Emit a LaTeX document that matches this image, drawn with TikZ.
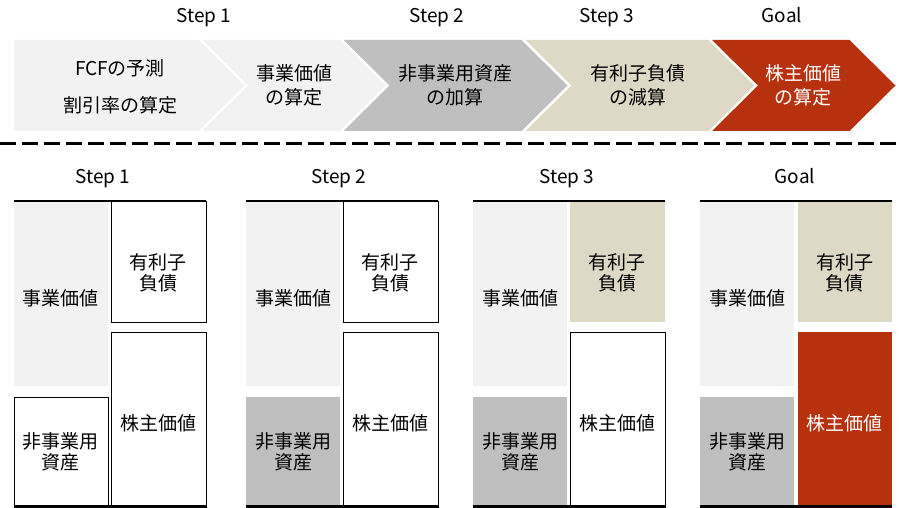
\documentclass[tikz,border=0pt]{standalone}
\usepackage{fontspec}
\setmainfont{Noto Sans CJK JP}
\definecolor{evgray}{HTML}{F2F2F2}
\definecolor{noagray}{HTML}{BFBFBF}
\definecolor{debtbeige}{HTML}{DDD9C4}
\definecolor{eqred}{RGB}{183,49,15}
\tikzstyle{chevtext} = [align=center, font=\fontsize{19}{24.5}\selectfont]
\tikzstyle{title} = [anchor=base, font=\fontsize{19}{23}\selectfont]
\tikzstyle{boxtext} = [align=center, font=\fontsize{19}{21}\selectfont]
\tikzstyle{leftbox} = [rectangle, anchor=north west, inner sep=0pt, minimum width=94pt]
\tikzstyle{rightbox} = [rectangle, anchor=north west, inner sep=0pt, minimum width=94.5pt]
\tikzstyle{evbox} = [leftbox, minimum height=185pt, fill=evgray]
\tikzstyle{noabox} = [leftbox, minimum height=110pt]
\tikzstyle{debtbox} = [rightbox, minimum height=121pt]
\tikzstyle{eqbox} = [rightbox, minimum height=175pt]
\tikzstyle{outline} = [draw=black, line width=1pt, fill=white]
\tikzstyle{rule} = [line width=2.3pt]
\begin{document}
\begin{tikzpicture}[x=1pt, y=-1pt]
\useasboundingbox (0,0) rectangle (899,508);

% steps at the top
\fill [evgray] (14,40) -- (198.5,40) -- (244.5,85.5) -- (198.5,131) -- (14,131) -- cycle;
\fill [evgray] (202,40) -- (340,40) -- (386,85.5) -- (340,131) -- (202,131) -- (248,85.5) -- cycle;
\fill [noagray] (343.5,40) -- (521.5,40) -- (567.5,85.5) -- (521.5,131) -- (343.5,131) -- (389.5,85.5) -- cycle;
\fill [debtbeige] (525.5,40) -- (708.5,40) -- (754.5,85.5) -- (708.5,131) -- (525.5,131) -- (571.5,85.5) -- cycle;
\fill [eqred] (712,40) -- (849.5,40) -- (895.5,85.5) -- (849.5,131) -- (712,131) -- (758,85.5) -- cycle;

\node (h1) [title] at (204,22.5) {Step 1};
\node (h2) [title] at (437,22.5) {Step 2};
\node (h3) [title] at (607,22.5) {Step 3};
\node (h4) [title] at (782,22.5) {Goal};

\node (c1) [chevtext] at (120,86.5) {FCFの予測\\[12.5pt]割引率の算定};
\node (c2) [chevtext] at (294,85.5) {事業価値\\の算定};
\node (c3) [chevtext] at (455,85.5) {非事業用資産\\の加算};
\node (c4) [chevtext] at (638,85.5) {有利子負債\\の減算};
\node (c5) [chevtext, text=white] at (803,85.5) {株主価値\\の算定};

\draw [line width=3pt, dash pattern=on 16pt off 6pt] (0,143.3) -- (899,143.3);

% step 1
\node (t1) [title] at (103,183.5) {Step 1};
\node (ev1) [evbox] at (14,201) {};
\node (noa1) [noabox, outline] at (14,397) {};
\node (debt1) [debtbox, outline] at (111,201) {};
\node (eq1) [eqbox, outline] at (111,332) {};
\node (ev1t) [boxtext] at (61,298) {事業価値};
\node (noa1t) [boxtext] at (61,452) {非事業用\\資産};
\node (debt1t) [boxtext] at (158.25,272.5) {有利子\\負債};
\node (eq1t) [boxtext] at (158.25,423) {株主価値};
\draw [rule] (14,201) -- (206,201);
\draw [rule] (14,506.5) -- (206,506.5);

% step 2
\node (t2) [title] at (339,183.5) {Step 2};
\node (ev2) [evbox] at (246,201) {};
\node (noa2) [noabox, fill=noagray] at (246,397) {};
\node (debt2) [debtbox, outline] at (343,201) {};
\node (eq2) [eqbox, outline] at (343,332) {};
\node (ev2t) [boxtext] at (293,298) {事業価値};
\node (noa2t) [boxtext] at (293,452) {非事業用\\資産};
\node (debt2t) [boxtext] at (390.25,272.5) {有利子\\負債};
\node (eq2t) [boxtext] at (390.25,423) {株主価値};
\draw [rule] (246,201) -- (438,201);
\draw [rule] (246,506.5) -- (438,506.5);

% step 3
\node (t3) [title] at (567,183.5) {Step 3};
\node (ev3) [evbox] at (473,201) {};
\node (noa3) [noabox, fill=noagray] at (473,397) {};
\node (debt3) [debtbox, fill=debtbeige] at (570,201) {};
\node (eq3) [eqbox, outline] at (570,332) {};
\node (ev3t) [boxtext] at (520,298) {事業価値};
\node (noa3t) [boxtext] at (520,452) {非事業用\\資産};
\node (debt3t) [boxtext] at (617.25,272.5) {有利子\\負債};
\node (eq3t) [boxtext] at (617.25,423) {株主価値};
\draw [rule] (473,201) -- (665,201);
\draw [rule] (473,506.5) -- (665,506.5);

% goal
\node (t4) [title] at (795,183.5) {Goal};
\node (ev4) [evbox] at (700,201) {};
\node (noa4) [noabox, fill=noagray] at (700,397) {};
\node (debt4) [debtbox, fill=debtbeige] at (797.5,201) {};
\node (eq4) [eqbox, fill=eqred] at (797.5,332) {};
\node (ev4t) [boxtext] at (747,298) {事業価値};
\node (noa4t) [boxtext] at (747,452) {非事業用\\資産};
\node (debt4t) [boxtext] at (844.5,272.5) {有利子\\負債};
\node (eq4t) [boxtext, text=white] at (844.5,423) {株主価値};
\draw [rule] (700,201) -- (892,201);
\draw [rule] (700,506.5) -- (892,506.5);

\end{tikzpicture}
\end{document}
